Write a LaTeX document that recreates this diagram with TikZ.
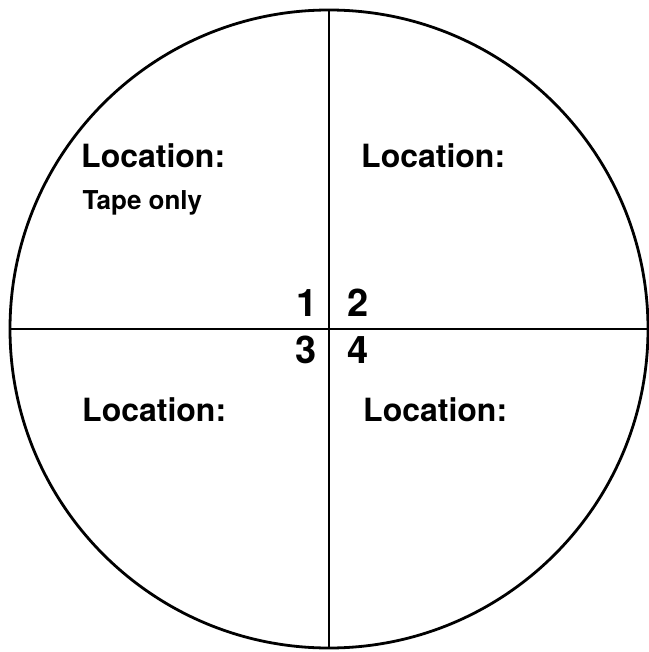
\documentclass[tikz,border=0pt]{standalone}
\usepackage{fontspec}
\setmainfont{TeX Gyre Heros}
\usetikzlibrary{positioning}

\begin{document}
\begin{tikzpicture}[x=1pt,y=-1pt,
  loc/.style={font=\fontsize{32}{36}\selectfont\bfseries,inner sep=0pt,anchor=base west},
  tape/.style={font=\fontsize{26}{30}\selectfont\bfseries,inner sep=0pt,anchor=base west},
  num/.style={font=\fontsize{38}{42}\selectfont\bfseries,inner sep=0pt}]
\useasboundingbox (0,0) rectangle (648,652);
\node[circle,draw,line width=2.8pt,inner sep=0pt,outer sep=0pt,minimum size=638pt] (rim) at (329,329) {};
\draw[line width=2.8pt] (rim.north) -- (rim.south);
\draw[line width=2.8pt] (rim.west) -- (rim.east);

\node[loc] (loca) at (81,168) {Location:};
\node[tape] (tape) at (82.5,210) {Tape only};
\node[loc] (locb) at (361,168) {Location:};
\node[loc] (locc) at (82,421) {Location:};
\node[loc] (locd) at (363,421) {Location:};

\node[num,anchor=base east] (one) at (318,316) {1};
\node[num,anchor=base west] (two) at (347,316) {2};
\node[num,anchor=base east] (three) at (316.5,363) {3};
\node[num,anchor=base west] (four) at (347,363) {4};
\end{tikzpicture}
\end{document}
